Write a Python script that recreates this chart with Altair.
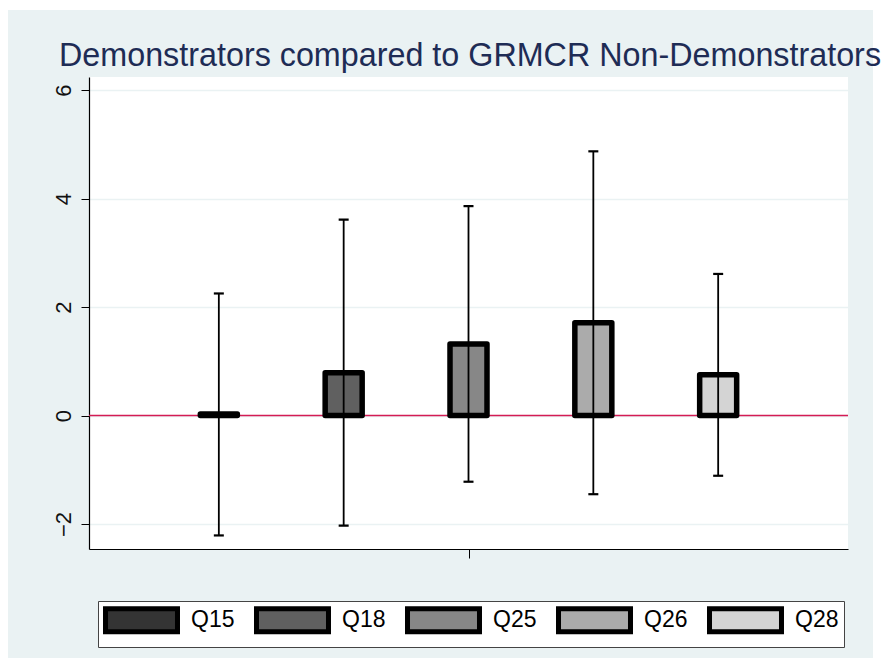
import altair as alt
import pandas as pd

# ---- data ----
questions = ["Q15", "Q18", "Q25", "Q26", "Q28"]
positions = [1, 2, 3, 4, 5]
estimates = [0.03, 0.79, 1.32, 1.71, 0.75]
upper = [2.25, 3.61, 3.86, 4.87, 2.61]
lower = [-2.21, -2.03, -1.22, -1.45, -1.11]
fills = ["#343434", "#606060", "#878787", "#ababab", "#d4d4d4"]
y_ticks = [-2, 0, 2, 4, 6]
x_ticks = [3]
title_text = "Demonstrators compared to GRMCR Non-Demonstrators"

df = pd.DataFrame({
    "q": questions, "pos": positions, "est": estimates,
    "zero": [0] * len(questions), "lo": lower, "hi": upper,
})
zero_df = pd.DataFrame({"v": [0]})
title_df = pd.DataFrame({"t": [title_text]})
deco_df = pd.DataFrame({"a": [0]})

FONT = "Liberation Sans, Arial, sans-serif"
W, H = 759, 472

xs = alt.Scale(domain=[0, 6], nice=False, zero=False)
ys = alt.Scale(domain=[-2.46, 6.24], nice=False, zero=False)

x_axis = alt.Axis(values=x_ticks, labels=False, title=None, grid=False,
                  tickSize=9, tickColor="black", tickWidth=1,
                  domainColor="black", domainWidth=1.2)
y_axis = alt.Axis(values=y_ticks, title=None, grid=True, gridColor="#EAF2F3",
                  gridWidth=1.6, tickSize=8, tickColor="black", tickWidth=1,
                  domainColor="black", domainWidth=1.2,
                  labelAngle=270, labelAlign="center", labelBaseline="alphabetic",
                  labelPadding=11, labelFontSize=22, labelColor="#111111",
                  labelFont=FONT)

X = alt.X("pos:Q", scale=xs, axis=x_axis)

zero_line = alt.Chart(zero_df).mark_rule(color="#d41c55", strokeWidth=1.5).encode(
    y=alt.Y("v:Q", scale=ys, axis=y_axis)
)

bars = alt.Chart(df).mark_bar(size=37, stroke="black", strokeWidth=5.5,
                              strokeJoin="round", opacity=1).encode(
    x=X,
    y=alt.Y("est:Q", scale=ys, axis=y_axis),
    y2="zero:Q",
    fill=alt.Fill("q:N", scale=alt.Scale(domain=questions, range=fills),
                  legend=alt.Legend(
                      title=None, orient="none", legendX=9, legendY=524,
                      direction="horizontal", columns=5,
                      symbolType="M-3.13,-1H3.13V1H-3.13Z", symbolSize=529,
                      symbolStrokeWidth=5, symbolStrokeColor="black",
                      symbolOpacity=1, symbolOffset=24.5,
                      labelFontSize=23, labelFont=FONT, labelColor="black",
                      labelOffset=35.5, columnPadding=11, padding=5,
                      strokeColor="#444444", fillColor="white", zindex=1)),
)

whiskers = alt.Chart(df).mark_rule(color="black", strokeWidth=1.8).encode(
    x=X, y=alt.Y("lo:Q", scale=ys, axis=y_axis), y2="hi:Q"
)
caps_hi = alt.Chart(df).mark_tick(orient="horizontal", size=10, thickness=2.2,
                                   color="black", opacity=1).encode(
    x=X, y=alt.Y("hi:Q", scale=ys, axis=y_axis)
)
caps_lo = alt.Chart(df).mark_tick(orient="horizontal", size=10, thickness=2.2,
                                   color="black", opacity=1).encode(
    x=X, y=alt.Y("lo:Q", scale=ys, axis=y_axis)
)

# white page margins outside the light graph region (right strip and top sliver)
right_strip = alt.Chart(deco_df).mark_rect(color="white").encode(
    x=alt.value(784), x2=alt.value(800), y=alt.value(-70), y2=alt.value(600)
)
top_strip = alt.Chart(deco_df).mark_rect(color="white").encode(
    x=alt.value(-90), x2=alt.value(800), y=alt.value(-70), y2=alt.value(-67)
)

title_mark = alt.Chart(title_df).mark_text(
    font=FONT, fontSize=32.3, color="#1e2c55", align="left",
    baseline="alphabetic"
).encode(text="t:N", x=alt.value(-30), y=alt.value(-11))

chart = alt.layer(
    right_strip, top_strip, zero_line, bars, whiskers, caps_hi, caps_lo, title_mark
).properties(
    width=W, height=H,
    autosize=alt.AutoSizeParams(type="none"),
    padding={"left": 81, "top": 69, "right": 36, "bottom": 109},
    background="#EAF2F3",
).configure_view(
    fill="white", stroke=None
)

chart.save("out.html", embed_options={"renderer": "svg", "actions": False})
